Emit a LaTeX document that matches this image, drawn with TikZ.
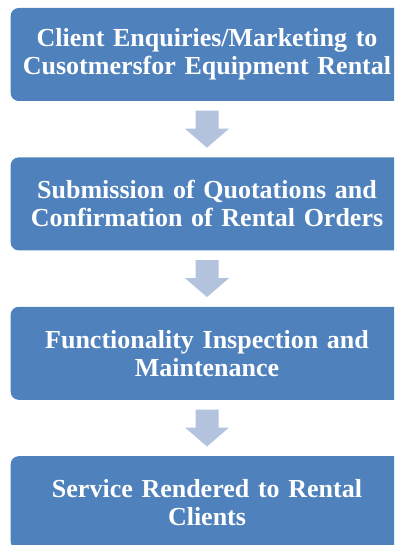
\documentclass[tikz,border=0pt]{standalone}
\usepackage{fontspec}
\setmainfont{Liberation Serif}
\usetikzlibrary{positioning,calc}

\definecolor{stageblue}{RGB}{79,129,189}
\definecolor{flowblue}{RGB}{179,195,222}

\tikzset{
stage/.style={fill=stageblue, rounded corners=8pt, minimum width=392pt, minimum height=93pt,
  text width=386pt, align=center, text=white, font=\bfseries\fontsize{26}{28}\selectfont},
flow/.style={fill=flowblue}
}
% block arrow pointing down, centred on a coordinate
\newcommand\flowarrow[1]{\fill[flow] ($(#1)+(-11.5,18.5)$) -- ++(23,0) -- ++(0,-18)
  -- ++(10.5,0) -- ++(-22,-19) -- ++(-22,19) -- ++(10.5,0) -- cycle;}

\begin{document}
\begin{tikzpicture}[x=1pt,y=1pt]
\useasboundingbox (0,0) rectangle (394,-545);
\clip (0,0) rectangle (394,-545);
\node[stage] (s1) at (207,-54.5) {Client Enquiries/Marketing to\\Cusotmersfor Equipment Rental};
\node[stage, below=56pt of s1] (s2) {Submission of Quotations and\\Confirmation of Rental Orders};
\node[stage, below=56pt of s2] (s3) {Functionality Inspection and\\Maintenance};
\node[stage, below=56pt of s3] (s4) {Service Rendered to Rental\\Clients};
%\draw[->] (s1) -- (s2);
\coordinate (m1) at ($(s1.south)!.5!(s2.north)$);
\coordinate (m2) at ($(s2.south)!.5!(s3.north)$);
\coordinate (m3) at ($(s3.south)!.5!(s4.north)$);
\flowarrow{m1}
\flowarrow{m2}
\flowarrow{m3}
\end{tikzpicture}
\end{document}
